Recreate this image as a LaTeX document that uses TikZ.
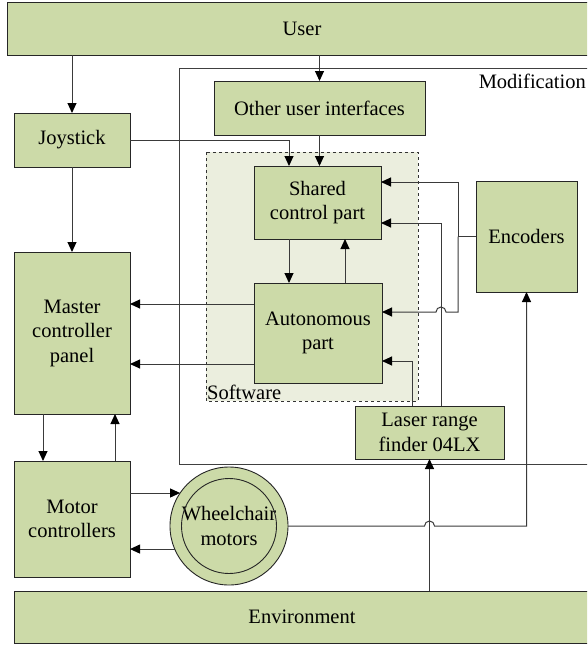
\documentclass[tikz,border=0pt]{standalone}
\usepackage{fontspec}
\setmainfont{Liberation Serif}
\newfontfamily\timesfont{Liberation Serif}
\usetikzlibrary{arrows.meta,calc}
\definecolor{boxgreen}{HTML}{CCDAA8}
\definecolor{softgreen}{HTML}{EBEEDE}
\definecolor{linegray}{HTML}{3A3A3A}

\tikzset{
	blk/.style={rectangle, draw=black!85, fill=boxgreen, line width=0.9pt,
		align=center, inner sep=2pt, outer sep=0pt,
		font=\timesfont\fontsize{20.5}{24.5}\selectfont},
	lbl/.style={inner sep=1pt, font=\timesfont\fontsize{20.5}{24.5}\selectfont},
	link/.style={draw=linegray, line width=1pt}
}

\begin{document}
\begin{tikzpicture}[x=1pt, y=-1pt, >={Triangle[length=10pt,width=9pt,color=black]}]

		% === page bounds ===
		\useasboundingbox (0,0) rectangle (587,645);
		\clip (0,0) rectangle (587,645);

		% === frames ===
		\draw[draw=black!75, line width=0.9pt] (179,68) rectangle (620,464);
		\node[lbl, anchor=east] (modlbl) at (587,81) {Modification};
		\draw[dashed, draw=black!80, fill=softgreen, line width=0.8pt] (206,152) rectangle (418,401);
		\node[lbl, anchor=south west] (swlbl) at (206,401) {Software};

		% === blocks ===
		\node[blk, minimum width=590pt, minimum height=53pt] (user) at (302,28.5) {User};
		\node[blk, minimum width=211pt, minimum height=54pt] (oui) at (319.5,108) {Other user interfaces};
		\node[blk, minimum width=116pt, minimum height=54pt] (joy) at (72,140) {Joystick};
		\node[blk, minimum width=127pt, minimum height=73pt] (shared) at (317.5,202.5) {Shared\\control part};
		\node[blk, minimum width=101pt, minimum height=111pt] (enc) at (526.5,236.5) {Encoders};
		\node[blk, minimum width=116pt, minimum height=162pt] (master) at (72,333) {Master\\controller\\panel};
		\node[blk, minimum width=128pt, minimum height=100pt] (auto) at (318,333) {Autonomous\\part};
		\node[blk, minimum width=149pt, minimum height=53pt] (laser) at (429.5,432.5) {Laser range\\finder 04LX};
		\node[blk, minimum width=116pt, minimum height=116pt] (motor) at (72,519) {Motor\\controllers};
		\node[blk, circle, inner sep=0pt, minimum size=118pt] (wheel) at (229,526) {Wheelchair\\motors};
		\draw[draw=black!85, line width=0.9pt] (wheel.center) circle[radius=47.5pt];
		\node[blk, minimum width=576pt, minimum height=52pt] (env) at (302,617) {Environment};

		% === helper points ===
		\coordinate (ej)  at ($(enc.west)+(-18,0)$);
		\coordinate (se1) at ($(shared.north east)+(0,16)$);
		\coordinate (se2) at ($(shared.north east)+(0,57)$);
		\coordinate (ae1) at ($(auto.north east)+(0,29)$);
		\coordinate (ae2) at ($(auto.north east)+(0,78)$);
		\coordinate (aw1) at ($(auto.north west)+(0,21)$);
		\coordinate (aw2) at ($(auto.north west)+(0,81)$);
		\coordinate (lr1) at ($(laser.north)+(11.5,0)$);
		\coordinate (lr2) at ($(laser.north)+(-17.5,0)$);
		\coordinate (sj)  at ($(shared.north)+(-28.5,0)$);
		\coordinate (sa)  at ($(shared.south)+(-28.5,0)$);
		\coordinate (as)  at ($(auto.north)+(27,0)$);
		\coordinate (mw)  at ($(motor.north east)+(0,32)$);
		\coordinate (enb) at (enc.south |- wheel.east);

		% === connectors ===
		\draw[link,->] (user.south -| joy.north) -- (joy.north);
		\draw[link,->] (user.south -| oui.north) -- (oui.north);
		\draw[link,->] (joy.south) -- (master.north);
		\draw[link,->] (joy.east) -| (sj);
		\draw[link,->] (oui.south) -- (oui.south |- shared.north);
		\draw[link,->] (sa) -- (sa |- auto.north);
		\draw[link,->] (as) -- (as |- shared.south);
		\draw[link] (enc.west) -- (ej);
		\draw[link,->] (ej) |- (se1);
		\draw[link,->] (ej) |- ($(lr1 |- ae1)+(5,0)$) arc[start angle=0, end angle=180, radius=5pt] -- (ae1);
		\draw[link,->] (lr1) |- (se2);
		\draw[link,->] (lr2) |- (ae2);
		\draw[link,->] (aw1) -- (aw1 -| master.east);
		\draw[link,->] (aw2) -- (aw2 -| master.east);
		\draw[link,->] ($(master.south)+(-29,0)$) -- ($(motor.north)+(-29,0)$);
		\draw[link,->] ($(motor.north)+(43,0)$) -- ($(master.south)+(43,0)$);
		\draw[link,->] (mw) -- (mw -| wheel.146);
		\draw[link,->] (wheel.203) -- (wheel.203 -| motor.east);
		\draw[link,->] (wheel.east) -- ($(laser.south |- wheel.east)+(-5,0)$) arc[start angle=180, end angle=0, radius=5pt] -- (enb) -- (enc.south);
		\draw[link,->] (env.north -| laser.south) -- (laser.south);
	\end{tikzpicture}
\end{document}
